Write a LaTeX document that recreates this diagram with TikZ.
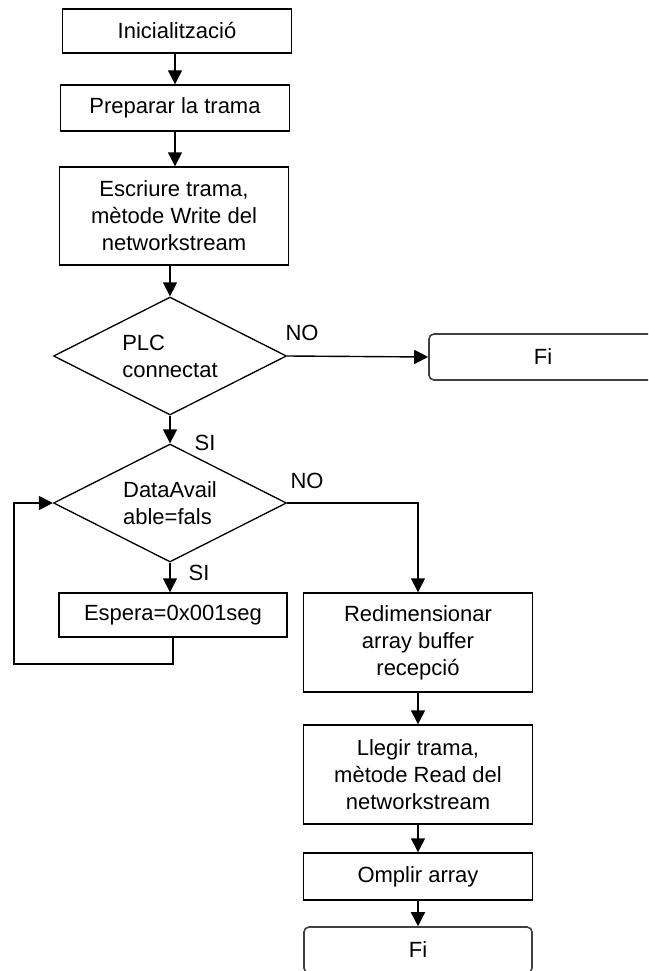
\documentclass[tikz,border=0pt]{standalone}
\usepackage{fontspec}
\setmainfont{Liberation Sans}
\usetikzlibrary{arrows.meta,shapes.geometric}
\begin{document}
\begin{tikzpicture}[x=1pt,y=-1pt,
  every node/.style={font=\fontsize{22}{27}\selectfont, inner sep=0pt},
  box/.style={draw, line width=1.4pt, minimum width=229pt, align=center},
  endbox/.style={draw=black!75, line width=1.6pt, rounded corners=5pt,
    minimum width=228pt, minimum height=46pt},
  decision/.style={draw, line width=1.3pt, diamond, aspect=2,
    minimum width=233pt, minimum height=118pt, align=left},
  arr/.style={line width=1.4pt, -{Triangle[length=14pt,width=14pt]}},
  lbl/.style={anchor=center}]
\useasboundingbox (0,0) rectangle (648,971);
\clip (0,0) rectangle (648,971);

% main column
\node[box, minimum height=44pt] (init) at (177,31) {Inicialització};
\node[box, minimum height=46pt] (prep) at (175,108) {Preparar la trama};
\node[box, minimum height=98pt] (escr) at (174,216)
  {Escriure trama,\\mètode Write del\\networkstream};
\node[decision] (plc) at (170,356) {PLC\\connectat};
\node[endbox] (fi1) at (543,357) {Fi};
\node[decision] (avail) at (170,503) {DataAvail\\able=fals};
\node[box, minimum height=44pt, minimum width=228pt] (wait) at (173,615)
  {Espera=0x001seg};

% receive column
\node[box, minimum height=99pt] (redim) at (418,642.5)
  {Redimensionar\\array buffer\\recepció};
\node[box, minimum height=99pt] (read) at (418,774.5)
  {Llegir trama,\\mètode Read del\\networkstream};
\node[box, minimum height=47pt] (fill) at (418,876.5) {Omplir array};
\node[endbox] (fi2) at (418,950) {Fi};

% branch labels
\node[lbl] (no1) at (302,333) {NO};
\node[lbl] (si1) at (205,443) {SI};
\node[lbl] (no2) at (307,481) {NO};
\node[lbl] (si2) at (199,573) {SI};

% connectors
\coordinate (loopbl) at (14,664);
\draw[arr] (init.south -| prep.north) -- (prep.north);
\draw[arr] (prep.south) -- (prep.south |- escr.north);
\draw[arr] (escr.south -| plc.north) -- (plc.north);
\draw[arr] (plc.east) -- (fi1.west);
\draw[arr] (plc.south) -- (avail.north);
\draw[arr] (avail.south) -- (avail.south |- wait.north);
\draw[arr] (avail.east) -| (redim.north);
\draw[arr] (wait.south) |- (loopbl) |- (avail.west);
\draw[arr] (redim.south) -- (read.north);
\draw[arr] (read.south) -- (fill.north);
\draw[arr] (fill.south) -- (fi2.north);
\end{tikzpicture}
\end{document}
